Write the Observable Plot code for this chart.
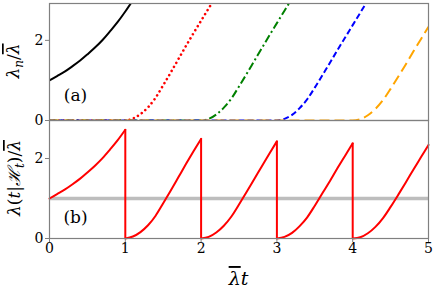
<!DOCTYPE html>
<html><head><meta charset="utf-8">
<script src="https://cdn.jsdelivr.net/npm/d3@7"></script>
<script src="https://cdn.jsdelivr.net/npm/@observablehq/plot@0.6"></script>
<style>
body{margin:0;background:#fff;}
#fig{position:relative;width:436px;height:295px;font-family:"DejaVu Serif",serif;}
#fig svg{position:absolute;left:0;overflow:visible;}
</style></head><body><div id="fig"></div>
<script>
// ---- data ----
const blackT = [0, 0.1, 0.2, 0.3, 0.4, 0.5, 0.6, 0.7, 0.8, 0.9, 1.0, 1.1];
const blackV = [1.00, 1.11, 1.22, 1.35, 1.49, 1.65, 1.82, 2.01, 2.23, 2.46, 2.72, 3.00];
const segS   = [0, 0.1, 0.2, 0.3, 0.4, 0.5, 0.6, 0.7, 0.8, 0.9, 1.0, 1.1, 1.2];
const seg1V  = [0, 0.05, 0.16, 0.33, 0.57, 0.88, 1.20, 1.53, 1.86, 2.18, 2.49, 2.80, 3.10];
const seg2V  = [0, 0.04, 0.15, 0.32, 0.55, 0.85, 1.16, 1.48, 1.80, 2.12, 2.43, 2.74, 3.05];
const seg3V  = [0, 0.04, 0.14, 0.31, 0.53, 0.82, 1.13, 1.44, 1.76, 2.07, 2.38, 2.69, 3.00];
const seg4V  = [0, 0.03, 0.13, 0.29, 0.51, 0.79, 1.09, 1.40, 1.72, 2.03, 2.34];
const eventTimes = [1, 2, 3, 4];
const xTicks = [0, 1, 2, 3, 4, 5];
const yTicks = [0, 2];
const meanLevel = 1;

const segs = [seg1V, seg2V, seg3V, seg4V];
const styles = [
  {stroke: "red",    dash: "0.01,4.7", width: 2.6},
  {stroke: "green",  dash: "8,3,2,3",  width: 2},
  {stroke: "blue",   dash: "6,3",      width: 2},
  {stroke: "orange", dash: "10,5",     width: 2}
];

// top panel series
const blackData = blackT.map((t, i) => ({t, v: blackV[i]}));
const topSeries = segs.map((vals, k) => {
  const n = eventTimes[k];
  const pts = [{t: 0, v: 0}];
  vals.forEach((v, i) => pts.push({t: n + segS[i], v}));
  return pts;
});

// bottom panel: sawtooth pieces
const sawPieces = [blackData.filter(d => d.t <= 1).map(d => ({...d, k: 0}))];
segs.forEach((vals, k) => {
  const n = eventTimes[k];
  const pts = [];
  vals.forEach((v, i) => { if (segS[i] <= 1.0001) pts.push({t: n + segS[i], v, k: k + 1}); });
  sawPieces.push(pts);
});
const drops = eventTimes.map((n, k) => ({t: n, top: sawPieces[k][sawPieces[k].length - 1].v}));

const W = 436, ML = 49, MR = 8;
const font = {fontFamily: "DejaVu Serif, serif", fontSize: "14px", color: "black", background: "transparent"};
const fig = document.getElementById("fig");
const fmt = d3.format("d");

// ---- top panel ----
const topSvg = Plot.plot({
  width: W, height: 122, marginLeft: ML, marginRight: MR, marginTop: 3, marginBottom: 2,
  style: font,
  x: {domain: [0, 5], axis: null},
  y: {domain: [0, 2.92], axis: null},
  marks: [
    Plot.line(blackData, {x: "t", y: "v", stroke: "black", strokeWidth: 2, curve: "catmull-rom", clip: true}),
    ...topSeries.map((pts, k) => Plot.line(pts, {
      x: "t", y: "v", stroke: styles[k].stroke, strokeWidth: styles[k].width,
      strokeDasharray: styles[k].dash, strokeLinecap: k === 0 ? "round" : "butt",
      curve: "monotone-x", clip: true})),
    Plot.frame({stroke: "gray", strokeWidth: 1.2}),
    Plot.axisY({ticks: yTicks, tickFormat: fmt, tickSize: 4, tickPadding: 2, stroke: "gray", label: null}),
    Plot.text(["(a)"], {frameAnchor: "bottom-left", dx: 26, dy: -20, fontSize: 17, textAnchor: "middle"})
  ]
});
topSvg.style.top = "0px";
fig.appendChild(topSvg);

// ---- bottom panel ----
const botSvg = Plot.plot({
  width: W, height: 175, marginLeft: ML, marginRight: MR, marginTop: 0, marginBottom: 57,
  style: font,
  x: {domain: [0, 5], axis: null},
  y: {domain: [0, 2.95], axis: null},
  marks: [
    Plot.ruleY([meanLevel], {stroke: "#bdbdbd", strokeWidth: 3.5}),
    ...sawPieces.map(pts => Plot.line(pts, {x: "t", y: "v", stroke: "red", strokeWidth: 2, curve: "monotone-x"})),
    Plot.ruleX(drops, {x: "t", y1: 0, y2: "top", stroke: "red", strokeWidth: 2}),
    Plot.frame({stroke: "gray", strokeWidth: 1.2}),
    Plot.axisY({ticks: yTicks, tickFormat: fmt, tickSize: 4, tickPadding: 2, stroke: "gray", label: null}),
    Plot.axisX({ticks: xTicks, tickFormat: fmt, tickSize: 4, tickPadding: 1, stroke: "gray", label: null}),
    Plot.text(["(b)"], {frameAnchor: "bottom-left", dx: 26, dy: -16, fontSize: 17, textAnchor: "middle"})
  ]
});
botSvg.style.top = "120px";
fig.appendChild(botSvg);

// ---- axis titles (real text with sub/superscripts) ----
function addText(t, parts) {
  parts.forEach(p => {
    const s = t.append("tspan").text(p.s);
    if (p.it) s.style("font-style", "italic");
    if (p.bar) s.style("text-decoration", "overline");
    if (p.dy) s.attr("dy", p.dy);
    if (p.fs) s.style("font-size", p.fs);
  });
}
function ylab(svg, x, y, parts) {
  const t = d3.select(svg).append("text")
    .attr("transform", `translate(${x},${y}) rotate(-90)`)
    .attr("text-anchor", "middle")
    .style("font-family", "DejaVu Serif, serif").style("font-size", "17px").attr("fill", "black");
  addText(t, parts);
}
ylab(topSvg, 19, 61, [
  {s: "λ", it: true}, {s: "n", it: true, dy: 4, fs: "12px"}, {s: "/", dy: -4}, {s: "λ", it: true, bar: true}
]);
ylab(botSvg, 20, 58, [
  {s: "λ", it: true}, {s: "("}, {s: "t", it: true}, {s: "|"}, {s: "ℋ", it: true},
  {s: "t", it: true, dy: 4, fs: "12px"}, {s: ")", dy: -4}, {s: "/"}, {s: "λ", it: true, bar: true}
]);
const xl = d3.select(botSvg).append("text")
  .attr("x", (ML + (W - MR)) / 2).attr("y", 165)
  .attr("text-anchor", "middle")
  .style("font-family", "DejaVu Serif, serif").style("font-size", "19px").style("font-style", "italic")
  .attr("fill", "black");
addText(xl, [{s: "λ", bar: true}, {s: "t"}]);
</script></body></html>
